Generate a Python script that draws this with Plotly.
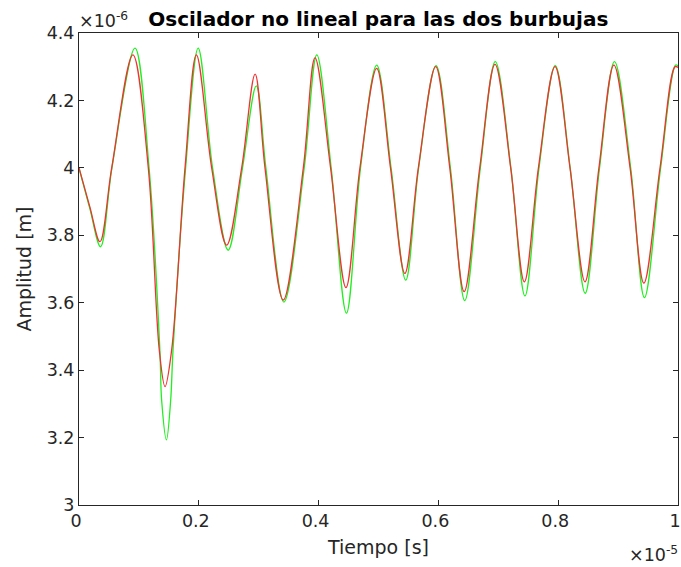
import plotly.graph_objects as go

# Time in units of 1e-5 s, amplitude in units of 1e-6 m
time_red = [0, 0.018, 0.035, 0.0546, 0.090, 0.1157, 0.134, 0.1436, 0.1547, 0.177,
            0.196, 0.2215, 0.2465, 0.2716, 0.294, 0.3105, 0.341, 0.3745, 0.394, 0.420,
            0.4457, 0.469, 0.497, 0.520, 0.544, 0.5665, 0.5955, 0.619, 0.643, 0.669,
            0.6945, 0.7207, 0.7435, 0.767, 0.7947, 0.8197, 0.8447, 0.868, 0.893, 0.920,
            0.943, 0.970, 0.995, 1.0]
amp_red = [4.000, 3.885, 3.781, 4.000, 4.335, 4.000, 3.460, 3.351, 3.460, 4.000,
           4.335, 4.000, 3.771, 4.000, 4.278, 4.000, 3.608, 4.000, 4.326, 4.000,
           3.645, 4.000, 4.295, 4.000, 3.687, 4.000, 4.300, 4.000, 3.633, 4.000,
           4.307, 4.000, 3.662, 4.000, 4.300, 4.000, 3.662, 4.000, 4.305, 4.000,
           3.658, 4.000, 4.300, 4.298]

time_green = [0, 0.018, 0.036, 0.055, 0.0935, 0.117, 0.135, 0.138, 0.146, 0.153,
              0.157, 0.178, 0.199, 0.223, 0.249, 0.273, 0.296, 0.312, 0.342, 0.376,
              0.397, 0.421, 0.4465, 0.470, 0.497, 0.521, 0.5455, 0.567, 0.596, 0.620,
              0.644, 0.670, 0.695, 0.721, 0.7445, 0.768, 0.795, 0.820, 0.845, 0.869,
              0.894, 0.921, 0.944, 0.971, 0.996, 1.0]
amp_green = [4.000, 3.880, 3.766, 4.000, 4.355, 4.000, 3.460, 3.310, 3.193, 3.310,
             3.460, 4.000, 4.355, 4.000, 3.756, 4.000, 4.243, 4.000, 3.602, 4.000,
             4.335, 4.000, 3.569, 4.000, 4.305, 4.000, 3.667, 4.000, 4.303, 4.000,
             3.606, 4.000, 4.315, 4.000, 3.620, 4.000, 4.303, 4.000, 3.628, 4.000,
             4.315, 4.000, 3.615, 4.000, 4.305, 4.303]

x_ticks = [0, 0.2, 0.4, 0.6, 0.8, 1]
x_ticklabels = ["0", "0.2", "0.4", "0.6", "0.8", "1"]
y_ticks = [3, 3.2, 3.4, 3.6, 3.8, 4, 4.2, 4.4]
y_ticklabels = ["3", "3.2", "3.4", "3.6", "3.8", "4", "4.2", "4.4"]

AX = "#262626"
FONT = "DejaVu Sans"

fig = go.Figure()
fig.add_trace(go.Scatter(x=time_green, y=amp_green, mode="lines",
                         line=dict(color="#22ee22", width=1.3, shape="spline"),
                         showlegend=False))
fig.add_trace(go.Scatter(x=time_red, y=amp_red, mode="lines",
                         line=dict(color="#ee3333", width=1.3, shape="spline"),
                         showlegend=False))

axis_common = dict(showgrid=False, zeroline=False, showline=True, linecolor=AX,
                   linewidth=1, mirror="ticks", ticks="inside", ticklen=5,
                   tickcolor=AX, ticklabeloverflow="allow", automargin=False,
                   tickfont=dict(family=FONT, size=17.5, color=AX))

fig.update_xaxes(range=[0, 1], tickvals=x_ticks, ticktext=x_ticklabels,
                 ticklabelshift=-3,
                 title=dict(text="Tiempo [s]", font=dict(family=FONT, size=19, color=AX),
                            standoff=10),
                 **axis_common)
fig.update_yaxes(range=[3, 4.4], tickvals=y_ticks, ticktext=y_ticklabels,
                 title=dict(text="Amplitud [m]", font=dict(family=FONT, size=19, color=AX),
                            standoff=10),
                 **axis_common)

fig.update_layout(
    width=681, height=567,
    margin=dict(l=79, r=3, t=33, b=62),
    paper_bgcolor="white", plot_bgcolor="white",
    title=dict(text="<b>Oscilador no lineal para las dos burbujas</b>",
               x=0.5555, xanchor="center", y=1 - 18.5 / 567, yanchor="middle",
               font=dict(family=FONT, size=20, color="black")),
    annotations=[
        dict(text="×10<sup>-6</sup>", xref="paper", yref="paper", x=0, y=1,
             xanchor="left", yanchor="bottom", showarrow=False, yshift=0, xshift=-2,
             font=dict(family=FONT, size=17.5, color=AX)),
        dict(text="×10<sup>-5</sup>", xref="paper", yref="paper", x=1, y=0,
             xanchor="right", yanchor="top", showarrow=False, yshift=-36, xshift=2,
             font=dict(family=FONT, size=17.5, color=AX)),
    ],
)

fig.write_html("out.html")
